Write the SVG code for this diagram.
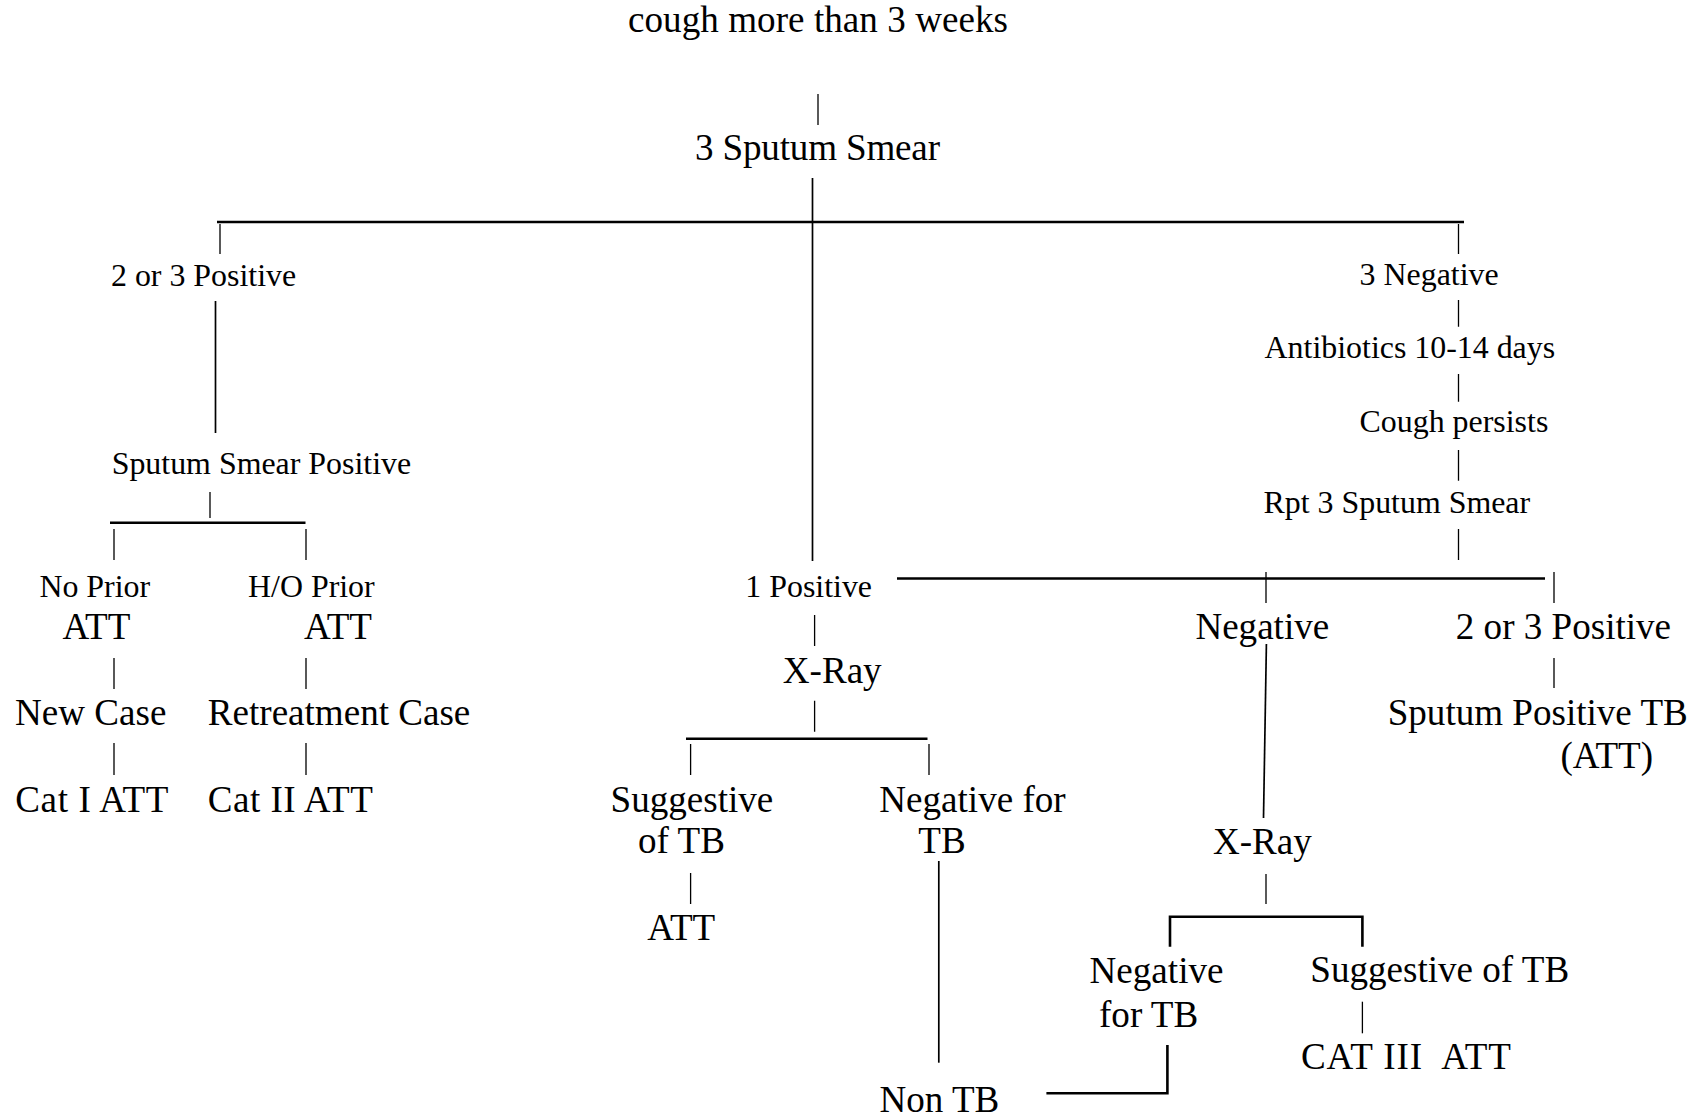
<svg xmlns="http://www.w3.org/2000/svg" width="1703" height="1117" viewBox="0 0 1703 1117">
<style>
text{font-family:"Liberation Serif","Times New Roman",serif;fill:#000}
.L{font-size:37.1px}
.S{font-size:31.9px}
.c path{fill:none;stroke:#000;stroke-linecap:butt}
.t{stroke-width:1.3}
.m{stroke-width:1.7}
.b{stroke-width:2.6}
</style>
<rect width="1703" height="1117" fill="#fff"/>
<g class="c" id="connectors">
<path class="t" d="M818 94V125"/>
<path class="m" d="M812.5 178V561"/>
<path class="b" d="M217 222H1464"/>
<path class="t" d="M220 224V254M1458.5 224V254"/>
<path class="m" d="M215.5 301V433"/>
<path class="t" d="M210 492V518"/>
<path class="b" d="M110 522.7H305.5"/>
<path class="t" d="M114 529V560M306 529V560M114 658V689M306 658V689M114 743V775M306 743V775"/>
<path class="t" d="M1458.5 300V326.7M1458.5 374V401.7M1458.5 450V480.7M1458.5 529V560"/>
<path class="b" d="M897 578.5H1545"/>
<path class="t" d="M1266 572V603M1554 572V603M1554 658V688"/>
<path class="m" d="M1266.4 644L1263.5 818"/>
<path class="t" d="M814.6 615V646M814.6 700.7V731.7"/>
<path class="b" d="M686 738.7H927.5"/>
<path class="t" d="M690.6 744V775M929 744V775M690.6 873V904"/>
<path class="m" d="M938.8 861V1062.7"/>
<path class="b" d="M1046.4 1093.3H1167.4V1045"/>
<path class="t" d="M1266 874V904"/>
<path class="b" d="M1170 946.7V916.7H1362.4V946.7"/>
<path class="t" d="M1362.4 1001.7V1033.3"/>
</g>
<g id="n-cough"><text class="L" x="628" y="32" textLength="380">cough more than 3 weeks</text></g>
<g id="n-smear"><text class="L" x="695" y="160" textLength="245">3 Sputum Smear</text></g>
<g id="n-pos23"><text class="S" x="111" y="285.5">2 or 3 Positive</text></g>
<g id="n-neg3"><text class="S" x="1359.6" y="285">3 Negative</text></g>
<g id="n-antib"><text class="S" x="1264.6" y="358.3">Antibiotics 10-14 days</text></g>
<g id="n-cough-persists"><text class="S" x="1359.6" y="431.7">Cough persists</text></g>
<g id="n-rpt"><text class="S" x="1263.5" y="513.3">Rpt 3 Sputum Smear</text></g>
<g id="n-ssp"><text class="S" x="111.7" y="474.3">Sputum Smear Positive</text></g>
<g id="n-noprior"><text class="S" x="39.4" y="596.7">No Prior</text><text class="L" x="62.4" y="639.3">ATT</text></g>
<g id="n-hoprior"><text class="S" x="248" y="596.7">H/O Prior</text><text class="L" x="304" y="639.3">ATT</text></g>
<g id="n-pos1"><text class="S" x="745.3" y="596.7">1 Positive</text></g>
<g id="n-negative"><text class="L" x="1195.4" y="639.3">Negative</text></g>
<g id="n-pos23b"><text class="L" x="1455.8" y="639.3">2 or 3 Positive</text></g>
<g id="n-xray1"><text class="L" x="782.8" y="682.7">X-Ray</text></g>
<g id="n-newcase"><text class="L" x="15" y="725">New Case</text></g>
<g id="n-retreat"><text class="L" x="207.8" y="725">Retreatment Case</text></g>
<g id="n-sptb"><text class="L" x="1387.7" y="725">Sputum Positive TB</text><text class="L" x="1560.4" y="768.3">(ATT)</text></g>
<g id="n-cat1"><text class="L" x="15.3" y="811.7" textLength="153">Cat I ATT</text></g>
<g id="n-cat2"><text class="L" x="207.8" y="811.7" textLength="165">Cat II ATT</text></g>
<g id="n-sugg1"><text class="L" x="610.6" y="811.7">Suggestive</text><text class="L" x="638" y="853.3">of TB</text></g>
<g id="n-negfor1"><text class="L" x="879.3" y="811.7">Negative for</text><text class="L" x="918.3" y="853.3">TB</text></g>
<g id="n-xray2"><text class="L" x="1213" y="853.5">X-Ray</text></g>
<g id="n-att"><text class="L" x="647.3" y="940">ATT</text></g>
<g id="n-negfor2"><text class="L" x="1089.6" y="982.5">Negative</text><text class="L" x="1099" y="1026.7">for TB</text></g>
<g id="n-sugg2"><text class="L" x="1310.3" y="982">Suggestive of TB</text></g>
<g id="n-cat3"><text class="L" x="1301" y="1069.3" textLength="210" xml:space="preserve">CAT III&#160; ATT</text></g>
<g id="n-nontb"><text class="L" x="879.5" y="1111.7">Non TB</text></g>
</svg>
